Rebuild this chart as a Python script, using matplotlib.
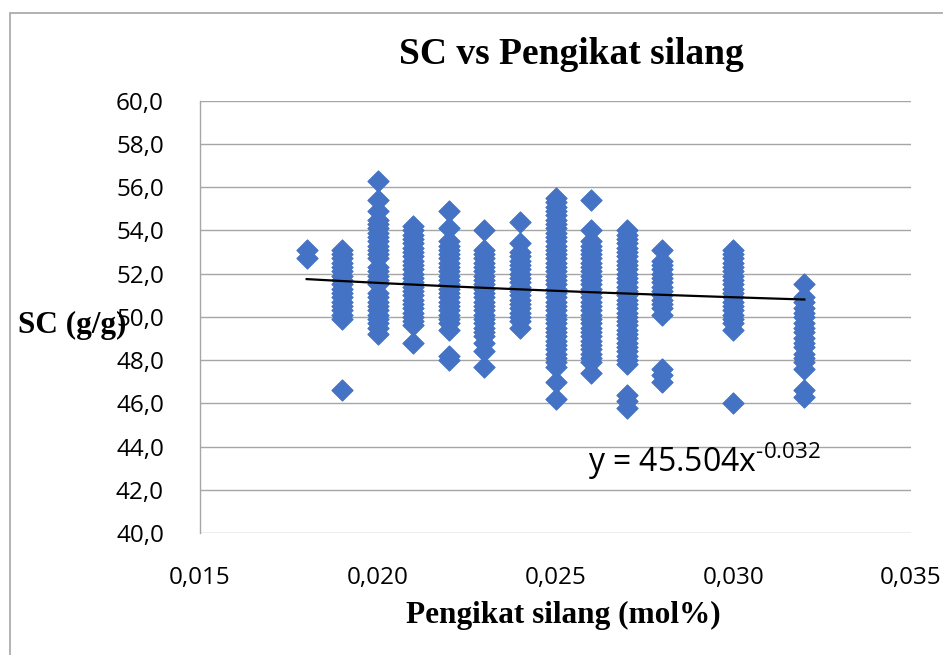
import numpy as np
import matplotlib
matplotlib.use("Agg")
import matplotlib.pyplot as plt
from matplotlib.ticker import FuncFormatter, MultipleLocator
from matplotlib.patches import Rectangle

# crosslinker (mol%) and swelling capacity SC (g/g)
x_levels = [0.018, 0.019, 0.020, 0.021, 0.022, 0.023, 0.024, 0.025, 0.026, 0.027, 0.028, 0.030, 0.032]
sc_018 = [53.1, 52.7]
sc_019 = [53.1, 52.9, 52.7, 52.5, 52.3, 52.1, 51.9, 51.7, 51.5, 51.3, 51.1, 50.9, 50.7, 50.5,
          50.3, 50.1, 49.9, 46.6]
sc_020 = [56.3, 55.4, 54.9, 54.5, 54.3, 54.1, 53.9, 53.7, 53.5, 53.3, 53.1, 52.9, 52.7, 52.3,
          52.1, 51.9, 51.7, 51.5, 51.1, 50.9, 50.7, 50.5, 50.3, 50.1, 49.9, 49.7, 49.5, 49.2]
sc_021 = [54.2, 54.0, 53.8, 53.6, 53.4, 53.2, 53.0, 52.8, 52.6, 52.4, 52.2, 52.0, 51.8, 51.6,
          51.4, 51.2, 51.0, 50.8, 50.6, 50.4, 50.2, 50.0, 49.8, 49.6, 48.8]
sc_022 = [54.9, 54.1, 53.5, 53.3, 53.1, 52.9, 52.7, 52.5, 52.3, 52.1, 51.9, 51.7, 51.5, 51.3,
          51.1, 50.9, 50.7, 50.5, 50.3, 50.1, 49.9, 49.7, 49.4, 48.2, 48.0]
sc_023 = [54.0, 53.1, 52.9, 52.7, 52.5, 52.3, 52.1, 51.9, 51.7, 51.5, 51.3, 51.1, 50.9, 50.7,
          50.5, 50.3, 50.1, 49.9, 49.7, 49.5, 49.3, 49.1, 48.8, 48.4, 47.7]
sc_024 = [54.4, 53.4, 53.0, 52.8, 52.6, 52.4, 52.2, 52.0, 51.8, 51.6, 51.4, 51.2, 51.0, 50.8,
          50.6, 50.4, 50.2, 50.0, 49.8, 49.5]
sc_025 = [55.5, 55.3, 55.1, 54.9, 54.7, 54.5, 54.3, 54.1, 53.9, 53.7, 53.5, 53.3, 53.1, 52.9,
          52.7, 52.5, 52.3, 52.1, 51.9, 51.7, 51.5, 51.3, 51.1, 50.9, 50.7, 50.5, 50.3, 50.1,
          49.9, 49.7, 49.5, 49.3, 49.1, 48.9, 48.7, 48.5, 48.3, 48.1, 47.9, 47.7, 47.0, 46.2]
sc_026 = [55.4, 54.0, 53.5, 53.3, 53.1, 52.9, 52.7, 52.5, 52.3, 52.1, 51.9, 51.7, 51.5, 51.3,
          51.1, 50.9, 50.7, 50.5, 50.3, 50.1, 49.9, 49.7, 49.5, 49.3, 49.1, 48.9, 48.7, 48.5,
          48.3, 48.1, 47.9, 47.4]
sc_027 = [54.0, 53.8, 53.6, 53.4, 53.2, 53.0, 52.8, 52.6, 52.4, 52.2, 52.0, 51.8, 51.6, 51.4,
          51.2, 51.0, 50.8, 50.6, 50.4, 50.2, 50.0, 49.8, 49.6, 49.4, 49.2, 49.0, 48.8, 48.6,
          48.4, 48.2, 48.0, 47.8, 46.4, 46.1, 45.8]
sc_028 = [53.1, 52.6, 52.4, 52.2, 52.0, 51.8, 51.6, 51.4, 51.2, 51.0, 50.8, 50.6, 50.4, 50.1,
          47.6, 47.3, 47.0]
sc_030 = [53.1, 52.9, 52.7, 52.5, 52.3, 52.1, 51.9, 51.7, 51.5, 51.3, 51.1, 50.9, 50.7, 50.5,
          50.3, 50.1, 49.9, 49.7, 49.4, 46.0]
sc_032 = [51.5, 50.9, 50.7, 50.4, 50.2, 50.0, 49.7, 49.5, 49.3, 49.0, 48.8, 48.6, 48.3, 48.1,
          47.9, 47.6, 46.6, 46.3]
sc_cols = [sc_018, sc_019, sc_020, sc_021, sc_022, sc_023, sc_024, sc_025, sc_026, sc_027,
           sc_028, sc_030, sc_032]

# power trendline shown on chart
trend_a = 45.504
trend_b = -0.032

xs = np.concatenate([[xv] * len(col) for xv, col in zip(x_levels, sc_cols)])
ys = np.concatenate(sc_cols)

tick_font = "Open Sans"
serif = "Liberation Serif"
grid_c = "#a6a6a6"

fig = plt.figure(figsize=(9.43, 6.55), dpi=100)
fig.patches.append(Rectangle((10 / 943, -0.1), 1.2, 1 - 13 / 655 + 0.1, transform=fig.transFigure,
                             fill=False, edgecolor=grid_c, linewidth=1.2))

ax = fig.add_axes([200 / 943, 1 - 533 / 655, 711 / 943, (533 - 100.7) / 655])
ax.plot(xs, ys, linestyle="none", marker=(4, 0, 0), markersize=15.5, color="#4472C4",
        markeredgewidth=0.6, zorder=3)

tx = np.linspace(min(x_levels), max(x_levels), 50)
ax.plot(tx, trend_a * tx ** trend_b, color="black", linewidth=1.6, zorder=4)

ax.set_xlim(0.015, 0.035)
ax.set_ylim(40, 60)
ax.xaxis.set_major_locator(MultipleLocator(0.005))
ax.yaxis.set_major_locator(MultipleLocator(2))
ax.xaxis.set_major_formatter(FuncFormatter(lambda v, p: f"{v:.3f}".replace(".", ",")))
ax.yaxis.set_major_formatter(FuncFormatter(lambda v, p: f"{v:.1f}".replace(".", ",")))
ax.grid(axis="y", color=grid_c, linewidth=1.0)
ax.set_axisbelow(True)
for s in ["top", "right", "bottom"]:
    ax.spines[s].set_visible(False)
ax.spines["left"].set_color(grid_c)
ax.spines["left"].set_linewidth(1.0)
ax.tick_params(length=0, labelsize=17.5, pad=26)
ax.tick_params(axis="x", pad=24)
for lab in ax.get_xticklabels() + ax.get_yticklabels():
    lab.set_fontfamily(tick_font)

fig.text(571 / 943, 1 - 54 / 655, "SC vs Pengikat silang", ha="center", va="center",
         fontsize=27, fontweight="bold", family=serif)
fig.text(563 / 943, 1 - 615 / 655, "Pengikat silang (mol%)", ha="center", va="center",
         fontsize=22.5, fontweight="bold", family=serif)
# in the original the axis title sits on top of the 50,0 label
fig.text(18 / 943, 1 - 325 / 655, "SC (g/g)", ha="left", va="center",
         fontsize=22.5, fontweight="bold", family=serif, zorder=5)

plt.rcParams["mathtext.fontset"] = "custom"
plt.rcParams["mathtext.rm"] = tick_font
plt.rcParams["mathtext.default"] = "regular"
fig.text(588 / 943, 1 - 472 / 655, r"y = 45.504x$^{\text{-0.032}}$", ha="left", va="baseline",
         fontsize=23, family=tick_font)

fig.savefig("out.png", dpi=100)
